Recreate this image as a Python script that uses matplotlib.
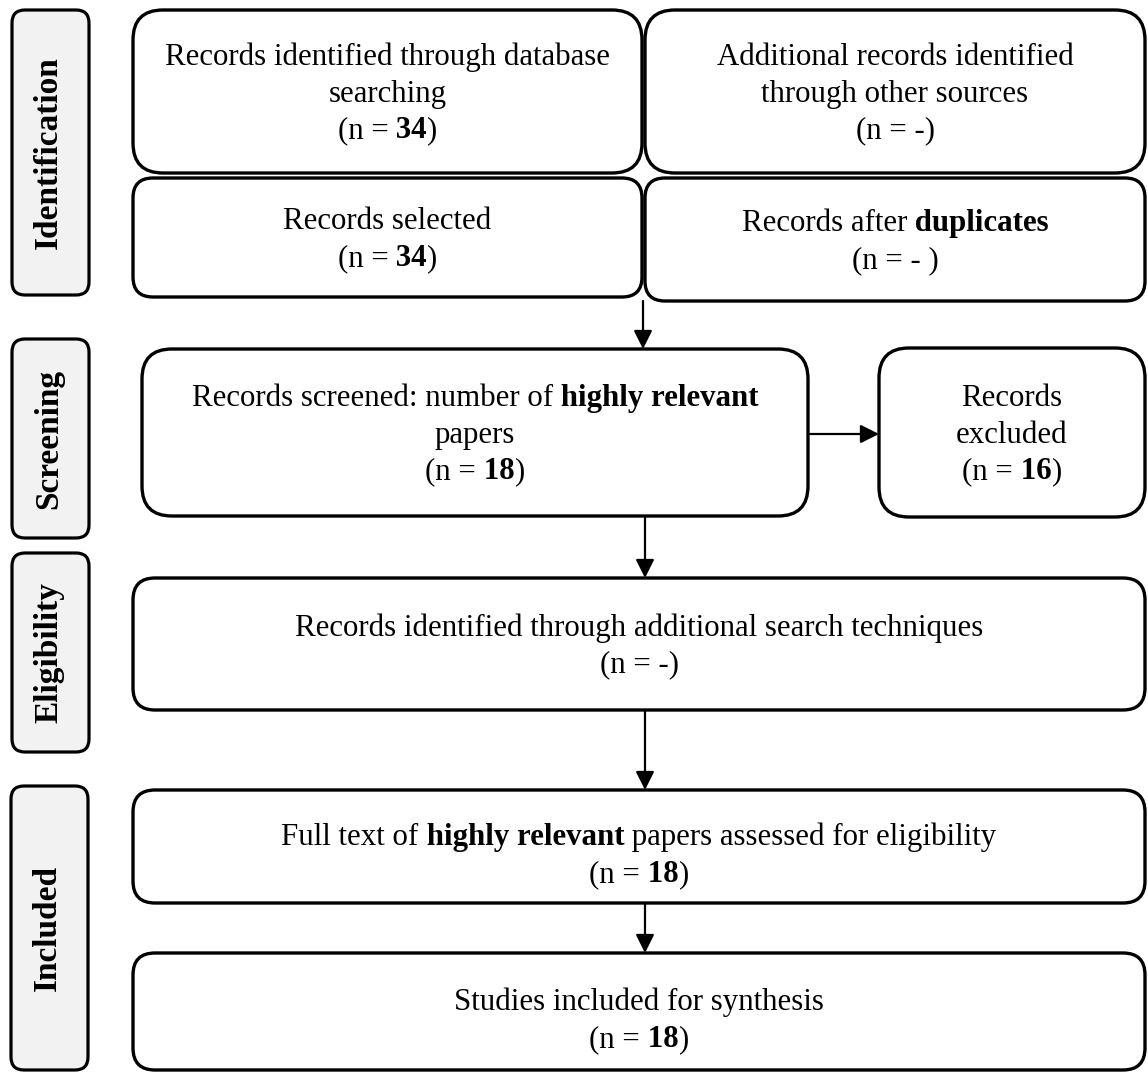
import matplotlib
matplotlib.use("Agg")
import matplotlib.pyplot as plt
from matplotlib.patches import FancyBboxPatch

# ---------------- data ----------------
stage_names = ["Identification", "Screening", "Eligibility", "Included"]

n_database = "34"
n_other_sources = "-"
n_selected = "34"
n_after_duplicates = "- "
n_screened = "18"
n_excluded = "16"
n_additional = "-"
n_fulltext = "18"
n_included = "18"

# ---------------- layout (pixels) ----------------
W, H = 1148, 1073
FONT = "Liberation Serif"
FS = 22.2
FS_LABEL = 24
PX = FS * 100 / 72.0
LS = 36.5

fig = plt.figure(figsize=(W / 100, H / 100), dpi=100)
ax = fig.add_axes([0, 0, 1, 1])
ax.set_xlim(0, W)
ax.set_ylim(H, 0)
ax.axis("off")
renderer = fig.canvas.get_renderer()

stage_boxes = [(12, 10, 89, 295), (12, 339, 89, 538), (12, 553, 89, 752), (11, 786, 88, 1070)]


def rbox(x0, y0, x1, y1, r, fc="white", lw=2.4):
    p = FancyBboxPatch((x0, y0), x1 - x0, y1 - y0,
                       boxstyle=f"round,pad=0,rounding_size={r}",
                       fc=fc, ec="black", lw=lw, zorder=2)
    ax.add_patch(p)


def measure(s, bold):
    kw = dict(fontsize=FS, fontfamily=FONT, fontweight="bold" if bold else "normal")
    t1 = ax.text(0, 0, "|" + s + "|", **kw)
    t2 = ax.text(0, 0, "||", **kw)
    w = t1.get_window_extent(renderer).width - t2.get_window_extent(renderer).width
    t1.remove()
    t2.remove()
    return w


def rich_line(cx, baseline, segs):
    widths = [measure(s, b) for s, b in segs]
    x = cx - sum(widths) / 2
    for (s, b), w in zip(segs, widths):
        ax.text(x, baseline, s, fontsize=FS, fontfamily=FONT,
                fontweight="bold" if b else "normal",
                ha="left", va="baseline", zorder=5)
        x += w


def box_text(box, lines, dy=0):
    x0, y0, x1, y1 = box[:4]
    cx, cy = (x0 + x1) / 2, (y0 + y1) / 2
    n = len(lines)
    for i, segs in enumerate(lines):
        if isinstance(segs, str):
            segs = [(segs, 0)]
        base = cy + (i - (n - 1) / 2) * LS + 0.33 * PX + dy
        rich_line(cx, base, segs)


def n_line(v):
    if v.strip() == "-":
        return [(f"(n = {v})", 0)]
    return [("(n =", 0), (" " + v, 1), (")", 0)]


# stage labels
for (x0, y0, x1, y1), name in zip(stage_boxes, stage_names):
    rbox(x0, y0, x1, y1, 13, fc="#f2f2f2", lw=2.3)
    ax.text((x0 + x1) / 2 - 2, (y0 + y1) / 2, name, rotation=90, ha="center", va="center",
            fontsize=FS_LABEL, fontfamily=FONT, fontweight="bold", zorder=5)

boxes = {
    "db": (133, 10, 642, 173, 30),
    "other": (645, 10, 1145, 173, 30),
    "selected": (133, 178, 642, 297, 20),
    "dup": (645, 178, 1145, 301, 20),
    "screened": (142, 349, 808, 516, 30),
    "excluded": (879, 348, 1145, 517, 30),
    "additional": (133, 578, 1145, 710, 22),
    "fulltext": (133, 790, 1145, 903, 22),
    "synthesis": (133, 953, 1145, 1070, 22),
}
for k, (x0, y0, x1, y1, r) in boxes.items():
    rbox(x0, y0, x1, y1, r)

box_text(boxes["db"], ["Records identified through database", "searching", n_line(n_database)])
box_text(boxes["other"], ["Additional records identified", "through other sources", n_line(n_other_sources)])
box_text(boxes["selected"], ["Records selected", n_line(n_selected)])
box_text(boxes["dup"], [[("Records after", 0), (" duplicates", 1)], n_line(n_after_duplicates)])
box_text(boxes["screened"], [[("Records screened: number of", 0), (" highly relevant", 1)],
                             "papers", n_line(n_screened)])
box_text(boxes["excluded"], ["Records", "excluded", n_line(n_excluded)])
box_text(boxes["additional"], ["Records identified through additional search techniques",
                               n_line(n_additional)])
box_text(boxes["fulltext"], [[("Full text of", 0), (" highly relevant", 1),
                              (" papers assessed for eligibility", 0)], n_line(n_fulltext)], dy=7)
box_text(boxes["synthesis"], ["Studies included for synthesis", n_line(n_included)], dy=7)


def arrow(x0, y0, x1, y1):
    ax.annotate("", xy=(x1, y1), xytext=(x0, y0),
                arrowprops=dict(arrowstyle="-|>", color="black", lw=1.6,
                                mutation_scale=28, shrinkA=0, shrinkB=0),
                zorder=4)


arrow(643, 301, 643, 349)
arrow(808, 434, 879, 434)
arrow(645, 516, 645, 578)
arrow(645, 710, 645, 790)
arrow(645, 903, 645, 953)

fig.savefig("out.png", dpi=100)
